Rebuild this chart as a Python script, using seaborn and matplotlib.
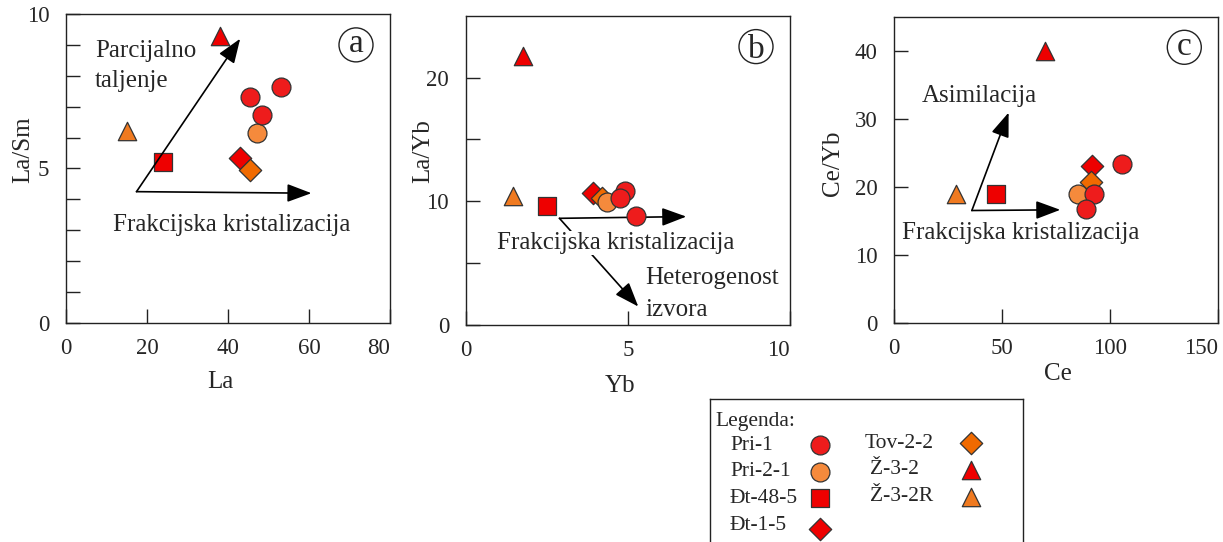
import numpy as np
import pandas as pd
import matplotlib
matplotlib.use("Agg")
import matplotlib.pyplot as plt
from matplotlib.patches import Ellipse
import matplotlib.transforms as mtransforms
import seaborn as sns

# ---------------- data ----------------
samples = ["Pri-1", "Pri-2-1", "Đt-48-5", "Đt-1-5", "Tov-2-2", "Ž-3-2", "Ž-3-2R"]
sample_colors = ["#ee1c1c", "#f58a3c", "#ee0000", "#ee0000", "#f06a00", "#ee0000", "#f07a20"]
sample_markers = ["o", "o", "s", "D", "D", "^", "^"]

# panel a : La vs La/Sm
a_sample = ["Pri-1", "Pri-1", "Pri-1", "Pri-2-1", "Đt-48-5", "Đt-1-5", "Tov-2-2", "Ž-3-2", "Ž-3-2R"]
a_La     = [45.4, 53.2, 48.3, 47.1, 24.0, 43.0, 45.4, 38.0, 15.0]
a_LaSm   = [7.30, 7.65, 6.73, 6.14, 5.20, 5.33, 4.95, 9.30, 6.20]

# panel b : Yb vs La/Yb
b_sample = ["Pri-1", "Pri-1", "Pri-1", "Pri-2-1", "Đt-48-5", "Đt-1-5", "Tov-2-2", "Ž-3-2", "Ž-3-2R"]
b_Yb     = [4.91, 4.76, 5.25, 4.35, 2.50, 3.93, 4.19, 1.76, 1.45]
b_LaYb   = [10.8, 10.3, 8.8, 9.9, 9.6, 10.7, 10.3, 21.7, 10.4]

# panel c : Ce vs Ce/Yb
c_sample = ["Pri-1", "Pri-1", "Pri-1", "Pri-2-1", "Đt-48-5", "Đt-1-5", "Tov-2-2", "Ž-3-2", "Ž-3-2R"]
c_Ce     = [105.4, 92.3, 88.9, 85.0, 47.2, 91.5, 91.0, 69.9, 28.7]
c_CeYb   = [23.4, 18.9, 16.7, 18.9, 19.0, 23.0, 20.7, 39.9, 19.0]

draw_order = ["Ž-3-2R", "Ž-3-2", "Đt-48-5", "Đt-1-5", "Tov-2-2", "Pri-2-1", "Pri-1"]

# ---------------- style ----------------
sns.set_theme(style="ticks")
plt.rcParams["font.family"] = ["Liberation Serif", "DejaVu Serif"]
plt.rcParams["axes.linewidth"] = 1.0
plt.rcParams["axes.edgecolor"] = "#222222"

FS = 18
W, H = 1223, 542
fig = plt.figure(figsize=(12.23, 5.42), dpi=100)
axA = fig.add_axes([0.0540, 0.4041, 0.2649, 0.5701])
axB = fig.add_axes([0.3808, 0.4004, 0.2652, 0.5707])
axC = fig.add_axes([0.7310, 0.4046, 0.2652, 0.5646])

color_of = dict(zip(samples, sample_colors))
marker_of = dict(zip(samples, sample_markers))
size_of = {"o": 185, "s": 155, "D": 130, "^": 175}

def scatter_panel(ax, names, xs, ys, xname, yname):
    df = pd.DataFrame({"sample": names, xname: xs, yname: ys})
    for s in draw_order:
        sub = df[df["sample"] == s]
        if len(sub) == 0:
            continue
        m = marker_of[s]
        sns.scatterplot(data=sub, x=xname, y=yname, ax=ax, marker=m,
                        color=color_of[s], s=size_of[m], edgecolor="#333333",
                        linewidth=0.9, legend=False, zorder=3)

scatter_panel(axA, a_sample, a_La, a_LaSm, "La", "La/Sm")
scatter_panel(axB, b_sample, b_Yb, b_LaYb, "Yb", "La/Yb")
scatter_panel(axC, c_sample, c_Ce, c_CeYb, "Ce", "Ce/Yb")

def style_axes(ax, xlim, ylim, xt, yt, yminor, xl, yl, xlab_pos, ylab_pos):
    ax.set_xlim(*xlim)
    ax.set_ylim(*ylim)
    ax.set_xticks(xt)
    ax.set_yticks(yt)
    ax.set_yticks(yminor, minor=True)
    ax.tick_params(which="both", direction="in", length=10, width=1.0, color="#222222",
                   labelsize=16.5, top=False, right=False)
    ax.tick_params(axis="y", pad=12)
    ax.tick_params(axis="x", pad=11)
    ax.set_xlabel(xl, fontsize=FS)
    ax.set_ylabel(yl, fontsize=FS)
    ax.xaxis.set_label_coords(*xlab_pos)
    ax.yaxis.set_label_coords(*ylab_pos)
    labs = ax.get_xticklabels()
    labs[-1].set_horizontalalignment("right")
    for sp in ax.spines.values():
        sp.set_visible(True)

style_axes(axA, (0, 80), (0, 10), [0, 20, 40, 60, 80], [0, 5, 10],
           [1, 2, 3, 4, 6, 7, 8, 9], "La", "La/Sm", (0.475, -0.155), (-0.097, 0.56))
style_axes(axB, (0, 10), (0, 25), [0, 5, 10], [0, 10, 20],
           [5, 15], "Yb", "La/Yb", (0.476, -0.161), (-0.098, 0.5626))
style_axes(axC, (0, 150), (0, 45), [0, 50, 100, 150], [0, 10, 20, 30, 40],
           [], "Ce", "Ce/Yb", (0.506, -0.132), (-0.154, 0.52))

def panel_label(ax, letter, glyph_h):
    w = 34 / (ax.bbox.width)
    h = 34 / (ax.bbox.height)
    e = Ellipse((0.895, 0.90), w, h, transform=ax.transAxes, fc="white",
                ec="#222222", lw=1.0, zorder=5)
    ax.add_patch(e)
    # baseline shifted so the glyph is centred in the circle (glyph_h in px)
    off = mtransforms.ScaledTranslation(0, -glyph_h / 2 / 100, fig.dpi_scale_trans)
    ax.text(0.895, 0.90, letter, transform=ax.transAxes + off, ha="center",
            va="baseline", fontsize=24, zorder=6)

panel_label(axA, "a", 15)
panel_label(axB, "b", 23)
panel_label(axC, "c", 15)

ap = dict(arrowstyle="-|>,head_length=0.75,head_width=0.28", color="black",
          lw=1.2, mutation_scale=20, shrinkA=0, shrinkB=0)

# panel a arrows & text
axA.annotate("", xy=(43.0, 9.2), xytext=(17.4, 4.25), arrowprops=ap, zorder=4)
axA.annotate("", xy=(60.6, 4.2), xytext=(17.4, 4.25), arrowprops=ap, zorder=4)
axA.text(7.1, 8.32, "Parcijalno\ntaljenje", fontsize=FS, ha="left", va="center",
         linespacing=1.45)
axA.text(11.6, 3.17, "Frakcijska kristalizacija", fontsize=FS, ha="left", va="center")

# panel b arrows & text
axB.annotate("", xy=(6.8, 8.76), xytext=(2.89, 8.62), arrowprops=ap, zorder=2)
axB.annotate("", xy=(5.32, 1.49), xytext=(2.89, 8.62), arrowprops=ap, zorder=2)
axB.text(0.96, 6.64, "Frakcijska kristalizacija", fontsize=FS, ha="left", va="center",
         zorder=4, bbox=dict(fc="white", ec="none", pad=0.5))
axB.text(5.53, 3.8, "Heterogenost", fontsize=FS, ha="left", va="center", zorder=4)
axB.text(5.53, 1.2, "izvora", fontsize=FS, ha="left", va="center", zorder=4)

# panel c arrows & text
axC.annotate("", xy=(53.0, 30.9), xytext=(36.0, 16.5), arrowprops=ap, zorder=2)
axC.annotate("", xy=(76.9, 16.6), xytext=(36.0, 16.5), arrowprops=ap, zorder=2)
axC.text(12.8, 33.4, "Asimilacija", fontsize=FS, ha="left", va="center")
axC.text(3.6, 13.2, "Frakcijska kristalizacija", fontsize=FS, ha="left", va="center")

# ---------------- legend box (pixel-based layout) ----------------
box_left, box_top, box_w = 710, 399.3, 313
box_h = 160
axL = fig.add_axes([box_left / W, (H - box_top - box_h) / H, box_w / W, box_h / H])
axL.set_xlim(0, box_w)
axL.set_ylim(box_h, 0)
axL.set_xticks([])
axL.set_yticks([])
for sp in axL.spines.values():
    sp.set_visible(True)
    sp.set_linewidth(1.0)
    sp.set_color("#222222")
axL.set_facecolor("white")

LFS = 15.5
axL.text(5, 22.4, "Legenda:", fontsize=LFS, ha="left", va="center")
row_gap = 26.7
col_cfg = [(samples[:4], 20, 110, 45.7), (samples[4:], 155, 261, 44.0)]
for names, tx, mx, y0 in col_cfg:
    for i, s in enumerate(names):
        y = y0 + i * row_gap
        xt = tx + (5 if s.startswith("Ž") else 0)
        axL.text(xt, y, s, fontsize=LFS, ha="left", va="center")
        m = marker_of[s]
        axL.scatter([mx], [y + (4 if s == "Đt-1-5" else 0)], marker=m, s=size_of[m],
                    color=color_of[s], edgecolor="#333333", linewidth=0.9)

fig.savefig("out.png", dpi=100)
